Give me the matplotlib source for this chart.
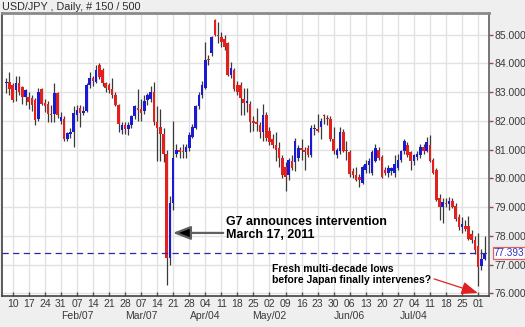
import matplotlib

matplotlib.use("Agg")
import matplotlib.pyplot as plt
import matplotlib.transforms as mtransforms
import numpy as np
import pandas as pd

# daily bars, 2011-01-06 .. 2011-08-03
dates = pd.bdate_range("2011-01-06", periods=150)

opens = [
    83.30, 83.34, 83.24, 83.07, 83.30, 83.18, 82.84, 82.84, 82.78, 82.72,
    82.08, 83.10, 82.62, 82.60, 82.25, 82.25, 82.95, 81.98, 82.08, 81.38,
    81.55, 81.62, 82.20, 82.43, 82.28, 82.35, 83.24, 83.48, 83.36, 83.94,
    83.77, 83.30, 83.25, 83.10, 82.90, 82.55, 81.67, 81.85, 81.70, 81.85,
    82.15, 82.45, 82.40, 82.35, 82.72, 82.75, 83.00, 81.95, 81.80, 81.55,
    80.85, 77.22, 79.13, 80.85, 80.98, 80.95, 80.92, 81.05, 81.45, 81.75,
    82.50, 82.90, 83.15, 84.15, 84.35, 85.52, 85.00, 84.90, 84.85, 84.70,
    83.60, 83.75, 83.25, 83.25, 82.75, 82.62, 82.60, 81.98, 81.95, 81.85,
    81.60, 82.20, 81.65, 81.35, 81.15, 81.05, 80.70, 80.40, 80.10, 80.60,
    80.55, 80.70, 81.05, 81.00, 81.05, 80.80, 81.70, 81.70, 81.80, 82.20,
    82.10, 82.05, 81.35, 80.80, 80.95, 81.60, 81.00, 80.90, 80.25, 80.10,
    80.05, 79.85, 80.30, 80.45, 80.20, 80.60, 81.00, 80.75, 80.30, 80.20,
    80.25, 80.20, 80.35, 80.65, 80.95, 81.15, 80.90, 80.60, 80.75, 80.80,
    81.10, 80.95, 81.15, 80.65, 80.30, 79.30, 79.00, 79.15, 79.10, 79.20,
    79.05, 78.65, 78.30, 78.35, 78.35, 78.05, 77.85, 77.65, 76.95, 77.20,
]
highs = [
    83.50, 83.70, 83.30, 83.55, 83.55, 83.20, 83.10, 83.00, 82.90, 82.80,
    83.15, 83.15, 82.75, 82.70, 82.55, 83.30, 83.00, 82.30, 82.15, 81.60,
    81.75, 82.50, 82.55, 82.55, 82.50, 83.30, 83.70, 83.55, 83.95, 84.00,
    83.85, 83.35, 83.30, 83.50, 83.00, 82.60, 81.95, 81.95, 81.95, 82.20,
    82.55, 83.10, 82.75, 82.90, 82.95, 83.20, 83.36, 82.50, 82.40, 81.75,
    81.00, 79.40, 82.00, 81.20, 81.10, 81.20, 81.20, 81.60, 81.90, 82.55,
    83.00, 83.40, 84.75, 84.30, 84.95, 85.55, 85.45, 85.10, 85.00, 84.75,
    84.05, 83.85, 83.40, 83.35, 83.15, 83.15, 82.70, 82.15, 82.45, 81.95,
    82.60, 82.30, 81.80, 81.55, 81.60, 81.25, 80.80, 80.55, 80.70, 80.80,
    81.40, 81.15, 81.35, 81.10, 81.15, 81.85, 81.90, 82.25, 82.10, 82.25,
    82.20, 82.15, 81.80, 81.05, 81.80, 81.70, 81.30, 81.00, 80.35, 80.40,
    80.15, 80.45, 80.65, 80.70, 81.00, 81.20, 81.10, 80.80, 80.40, 80.45,
    80.40, 80.80, 80.85, 81.00, 81.35, 81.25, 80.95, 80.85, 80.95, 81.20,
    81.20, 81.45, 81.50, 80.70, 80.35, 79.45, 79.30, 79.30, 79.35, 79.30,
    79.15, 78.75, 78.65, 78.55, 78.70, 78.20, 78.00, 78.10, 77.55, 78.00,
]
lows = [
    82.95, 82.90, 82.65, 82.70, 82.90, 82.60, 82.55, 82.40, 82.35, 81.85,
    82.00, 82.55, 82.30, 81.95, 81.95, 81.95, 82.10, 81.90, 81.30, 81.30,
    81.40, 81.10, 82.00, 81.80, 82.20, 82.30, 83.15, 83.20, 83.30, 83.45,
    83.20, 83.00, 82.95, 82.80, 82.50, 81.60, 81.55, 81.55, 81.50, 81.75,
    82.05, 81.98, 82.00, 82.25, 82.55, 82.65, 81.85, 80.60, 80.60, 80.55,
    76.30, 77.00, 78.90, 80.75, 80.70, 80.70, 80.70, 80.95, 81.40, 81.70,
    82.40, 82.80, 83.10, 83.95, 84.25, 84.95, 84.70, 84.55, 84.45, 83.55,
    83.50, 83.05, 82.90, 82.20, 82.20, 82.30, 81.60, 81.65, 81.65, 81.40,
    81.30, 81.30, 81.15, 81.05, 80.60, 80.40, 80.00, 79.55, 79.95, 80.30,
    80.25, 80.60, 80.65, 80.30, 80.75, 80.75, 81.50, 81.60, 81.35, 81.90,
    81.85, 81.30, 80.85, 80.70, 80.85, 80.90, 80.65, 80.05, 80.00, 79.90,
    79.70, 79.80, 80.20, 80.20, 80.10, 80.55, 80.65, 80.00, 80.10, 80.05,
    80.10, 80.05, 80.30, 80.55, 80.85, 80.75, 80.30, 80.45, 80.65, 80.70,
    80.85, 80.90, 80.55, 80.15, 79.20, 78.55, 78.45, 79.00, 78.90, 78.95,
    78.50, 78.20, 78.10, 78.15, 77.85, 77.75, 77.35, 76.25, 76.80, 77.15,
]
closes = [
    83.36, 83.12, 82.72, 83.30, 83.00, 82.84, 83.07, 82.66, 82.55, 82.02,
    83.00, 82.60, 82.52, 82.25, 82.20, 82.95, 82.20, 82.12, 81.38, 81.56,
    81.62, 82.26, 82.37, 82.26, 82.35, 83.24, 83.48, 83.40, 83.77, 83.53,
    83.30, 83.13, 83.07, 82.90, 82.55, 81.90, 81.85, 81.70, 81.85, 82.15,
    82.50, 82.38, 82.28, 82.70, 82.90, 83.00, 81.97, 81.75, 81.55, 80.85,
    77.22, 79.13, 80.70, 80.97, 80.93, 80.90, 81.10, 81.50, 81.80, 82.50,
    82.90, 83.25, 84.10, 84.10, 84.93, 84.98, 84.95, 84.75, 84.55, 83.60,
    83.82, 83.10, 83.00, 82.78, 82.63, 82.68, 81.97, 81.93, 81.90, 81.60,
    82.20, 81.40, 81.27, 81.15, 81.00, 80.70, 80.10, 80.05, 80.65, 80.35,
    81.30, 81.05, 80.98, 80.90, 80.80, 81.75, 81.72, 81.65, 82.00, 82.15,
    82.05, 81.35, 80.95, 81.00, 81.60, 80.95, 80.95, 80.15, 80.10, 79.95,
    79.95, 80.40, 80.50, 80.60, 80.90, 81.05, 80.70, 80.05, 80.18, 80.35,
    80.35, 80.50, 80.65, 80.95, 81.30, 80.80, 80.60, 80.80, 80.85, 81.10,
    80.95, 81.25, 80.60, 80.20, 79.25, 79.00, 79.18, 79.10, 79.20, 79.00,
    78.60, 78.30, 78.40, 78.25, 77.90, 77.85, 77.50, 76.90, 77.20, 77.393,
]

y_ticks = [76, 77, 78, 79, 80, 81, 82, 83, 84, 85]
month_ticks = ["2011-02-07", "2011-03-07", "2011-04-04", "2011-05-02", "2011-06-06", "2011-07-04"]
last_price = closes[-1]

title = "USD/JPY , Daily, # 150 / 500"
g7_note = "G7 announces intervention\nMarch 17, 2011"
lows_note = "Fresh multi-decade lows\nbefore Japan finally intervenes?"

UP = "#1a1ad2"
DOWN = "#e3201c"
BG = "#efefef"

plt.rcParams["font.family"] = ["Liberation Sans", "DejaVu Sans"]

fig = plt.figure(figsize=(5.25, 3.27), dpi=100, facecolor=BG)
ax = fig.add_axes([2 / 525, 31 / 327, 487 / 525, 283 / 327])
ax.set_facecolor("white")

x = np.arange(len(dates))
o = np.array(opens)
h = np.array(highs)
l = np.array(lows)
c = np.array(closes)
up = c >= o
colors = np.where(up, UP, DOWN)

# grid
mondays = x[dates.weekday == 0]
for m in mondays:
    ax.axvline(m, color="#e2e2e2", lw=1.0, zorder=0)
for yt in y_ticks:
    ax.axhline(yt, color="#e2e2e2", lw=1.0, zorder=0)

# candles
ax.vlines(x, l, h, color="#3a3a3a", lw=0.9, zorder=2)
body = np.maximum(np.abs(c - o), 0.04)
ax.bar(x, body, bottom=np.minimum(o, c), width=0.8, color=colors, lw=0, zorder=3)

# current price line and label
ax.axhline(last_price, color="#2a2aa0", lw=0.9, ls=(0, (5, 3.5)), zorder=4)
trans = mtransforms.blended_transform_factory(ax.transAxes, ax.transData)
ax.text(1.009, last_price, f"{last_price:.3f}", transform=trans, fontsize=7.2,
        color="#3030c8", va="center", ha="left",
        bbox=dict(boxstyle="square,pad=0.08", fc="white", ec="#e06060", lw=0.9))

ax.set_xlim(-1.33, 150.4)
ax.set_ylim(75.906, 85.75)

# axes styling
ax.yaxis.tick_right()
ax.set_yticks(y_ticks, [f"{v:.3f}" for v in y_ticks])
ax.tick_params(axis="y", direction="out", length=3, width=1, color="#a04848",
               labelsize=7.5, labelcolor="#3a3a3a", pad=1)
ax.set_xticks(mondays, [d.strftime("%d") for d in dates[mondays]])
ax.tick_params(axis="x", direction="in", length=3, width=1, color="#555555",
               labelsize=7.5, labelcolor="#3a3a3a", pad=2.5)
for side, col, lw in [("left", "#404040", 1.2), ("bottom", "#404040", 1.2),
                      ("right", "#606060", 1.2), ("top", "#8a8a8a", 2.0)]:
    ax.spines[side].set_color(col)
    ax.spines[side].set_linewidth(lw)

xtrans = mtransforms.blended_transform_factory(ax.transData, ax.transAxes)
for md in month_ticks:
    pos = dates.get_loc(pd.Timestamp(md))
    ax.text(pos, -0.071, pd.Timestamp(md).strftime("%b/%d"), transform=xtrans,
            fontsize=7.5, color="#3a3a3a", ha="center", va="center")

fig.text(2 / 525, 1 - 7 / 327, title, fontsize=7.8, color="#2a2a2a", ha="left", va="center")

# annotations
ax.text(68.4, 78.25, g7_note, fontsize=9, fontweight="bold", ha="left", va="center",
        linespacing=1.1)
ax.annotate("", xy=(51.9, 78.1), xytext=(67.6, 78.1),
            arrowprops=dict(arrowstyle="-|>,head_length=0.9,head_width=0.35",
                            lw=1.6, ec="#606060", fc="black", mutation_scale=12,
                            shrinkA=0, shrinkB=0))
ax.text(82.8, 76.65, lows_note, fontsize=7.5, fontweight="bold", ha="left", va="center",
        linespacing=1.15)
ax.annotate("", xy=(146.9, 76.01), xytext=(133.3, 76.5),
            arrowprops=dict(arrowstyle="-|>,head_length=0.9,head_width=0.35",
                            lw=0.9, color="#e02020", mutation_scale=11,
                            shrinkA=0, shrinkB=0))

fig.savefig("out.png", dpi=100, facecolor=BG)
